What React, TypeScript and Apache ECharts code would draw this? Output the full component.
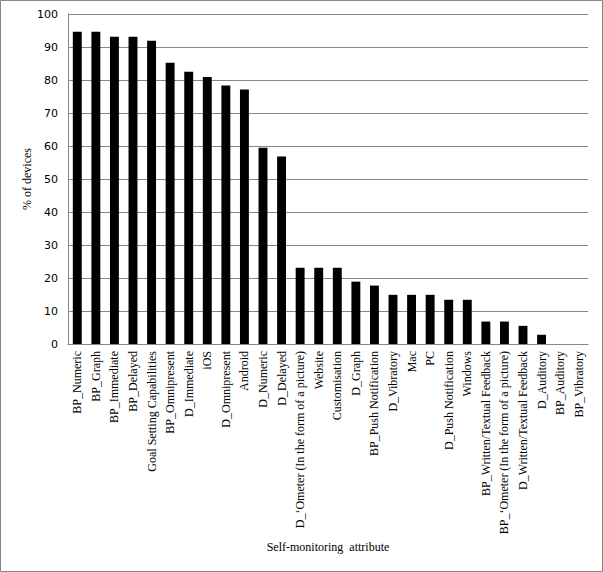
import React, { useEffect, useRef } from "react";
import * as echarts from "echarts";

const categories = [
  "BP_Numeric",
  "BP_Graph",
  "BP_Immediate",
  "BP_Delayed",
  "Goal Setting Capabilities",
  "BP_Omnipresent",
  "D_Immediate",
  "iOS",
  "D_Omnipresent",
  "Android",
  "D_Numeric",
  "D_Delayed",
  "D_\u2018Ometer (In the form of a picture)",
  "Website",
  "Customisation",
  "D_Graph",
  "BP_Push Notification",
  "D_Vibratory",
  "Mac",
  "PC",
  "D_Push Notification",
  "Windows",
  "BP_Written/Textual Feedback",
  "BP_\u2018Ometer (In the form of a picture)",
  "D_Written/Textual Feedback",
  "D_Auditory",
  "BP_Auditory",
  "BP_Vibratory",
];

const percentDevices = [
  94.6, 94.6, 93.1, 93.1, 91.9, 85.2, 82.5, 80.9, 78.3, 77.1, 59.5, 56.8,
  23.1, 23.1, 23.1, 18.9, 17.7, 14.9, 14.9, 14.9, 13.4, 13.4, 6.8, 6.8, 5.5,
  2.8, 0, 0,
];

const yAxisTitle = "% of devices";
const xAxisTitle = "Self-monitoring  attribute";

export default function App() {
  const ref = useRef<HTMLDivElement>(null);
  useEffect(() => {
    if (!ref.current) return;
    const chart = echarts.init(ref.current, null, { renderer: "svg" });
    const gray = "#868686";
    chart.setOption({
      animation: false,
      backgroundColor: "#ffffff",
      grid: { left: 68, right: 15, top: 14, bottom: 228 },
      graphic: [
        {
          type: "rect",
          shape: { x: 0.5, y: 0.5, width: 602, height: 571 },
          style: { fill: "none", stroke: gray, lineWidth: 1 },
          silent: true,
        },
      ],
      xAxis: {
        type: "category",
        data: categories,
        name: xAxisTitle,
        nameLocation: "middle",
        nameGap: 197,
        nameMoveOverlap: false,
        nameTextStyle: {
          fontFamily: "Liberation Serif",
          fontSize: 12,
          color: "#000",
        },
        axisLine: { lineStyle: { color: gray } },
        axisTick: { show: false },
        axisLabel: {
          interval: 0,
          rotate: 90,
          margin: 7,
          fontFamily: "Liberation Serif",
          fontSize: 12,
          color: "#000",
        },
      },
      yAxis: {
        type: "value",
        min: 0,
        max: 100,
        interval: 10,
        name: yAxisTitle,
        nameLocation: "middle",
        nameGap: 35,
        nameMoveOverlap: false,
        nameTextStyle: {
          fontFamily: "Liberation Serif",
          fontSize: 12,
          color: "#000",
        },
        axisLine: { show: true, lineStyle: { color: gray } },
        axisTick: { show: false },
        axisLabel: {
          margin: 10,
          fontFamily: "DejaVu Sans",
          fontSize: 11,
          color: "#000",
        },
        splitLine: { lineStyle: { color: gray } },
      },
      series: [
        {
          type: "bar",
          data: percentDevices,
          barWidth: "48%",
          itemStyle: { color: "#000" },
        },
      ],
    });
    return () => chart.dispose();
  }, []);
  return (
    <div
      ref={ref}
      style={{ position: "absolute", left: 0, top: 0, width: 603, height: 572 }}
    />
  );
}
